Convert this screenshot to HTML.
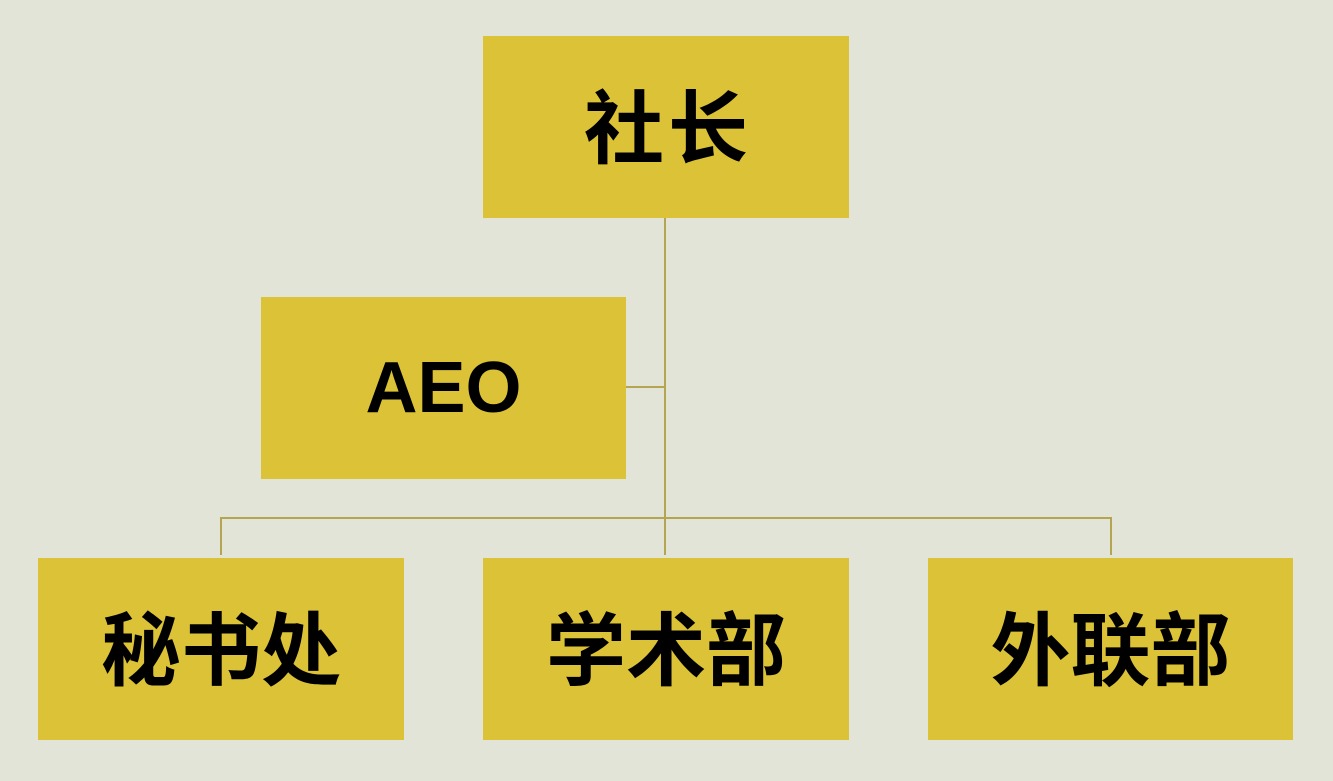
<!DOCTYPE html>
<html><head><meta charset="utf-8"><style>
body{margin:0;width:1333px;height:781px;background:#e3e4d8;position:relative;overflow:hidden;font-family:"Liberation Sans","Noto Sans CJK SC",sans-serif}
.b{position:absolute;background:#dcc236;display:flex;align-items:center;justify-content:center;font-weight:bold;font-size:80px;color:#000;width:366px;height:182px}
.b span{position:relative;top:-4px}
.l{position:absolute;background:#b5a550}
</style></head><body>
<div class="l" style="left:664px;top:218px;width:2px;height:337px"></div>
<div class="l" style="left:626px;top:386px;width:39px;height:2px"></div>
<div class="l" style="left:220px;top:517px;width:892px;height:2px"></div>
<div class="l" style="left:220px;top:517px;width:2px;height:38px"></div>
<div class="l" style="left:1110px;top:517px;width:2px;height:38px"></div>
<div class="b" style="left:483px;top:36px"><span style="letter-spacing:4px;left:2px">社长</span></div>
<div class="b" style="left:261px;top:297px;width:365px;font-size:72px"><span style="top:0">AEO</span></div>
<div class="b" style="left:38px;top:558px"><span>秘书处</span></div>
<div class="b" style="left:483px;top:558px"><span>学术部</span></div>
<div class="b" style="left:928px;top:558px;width:365px"><span>外联部</span></div>
</body></html>
